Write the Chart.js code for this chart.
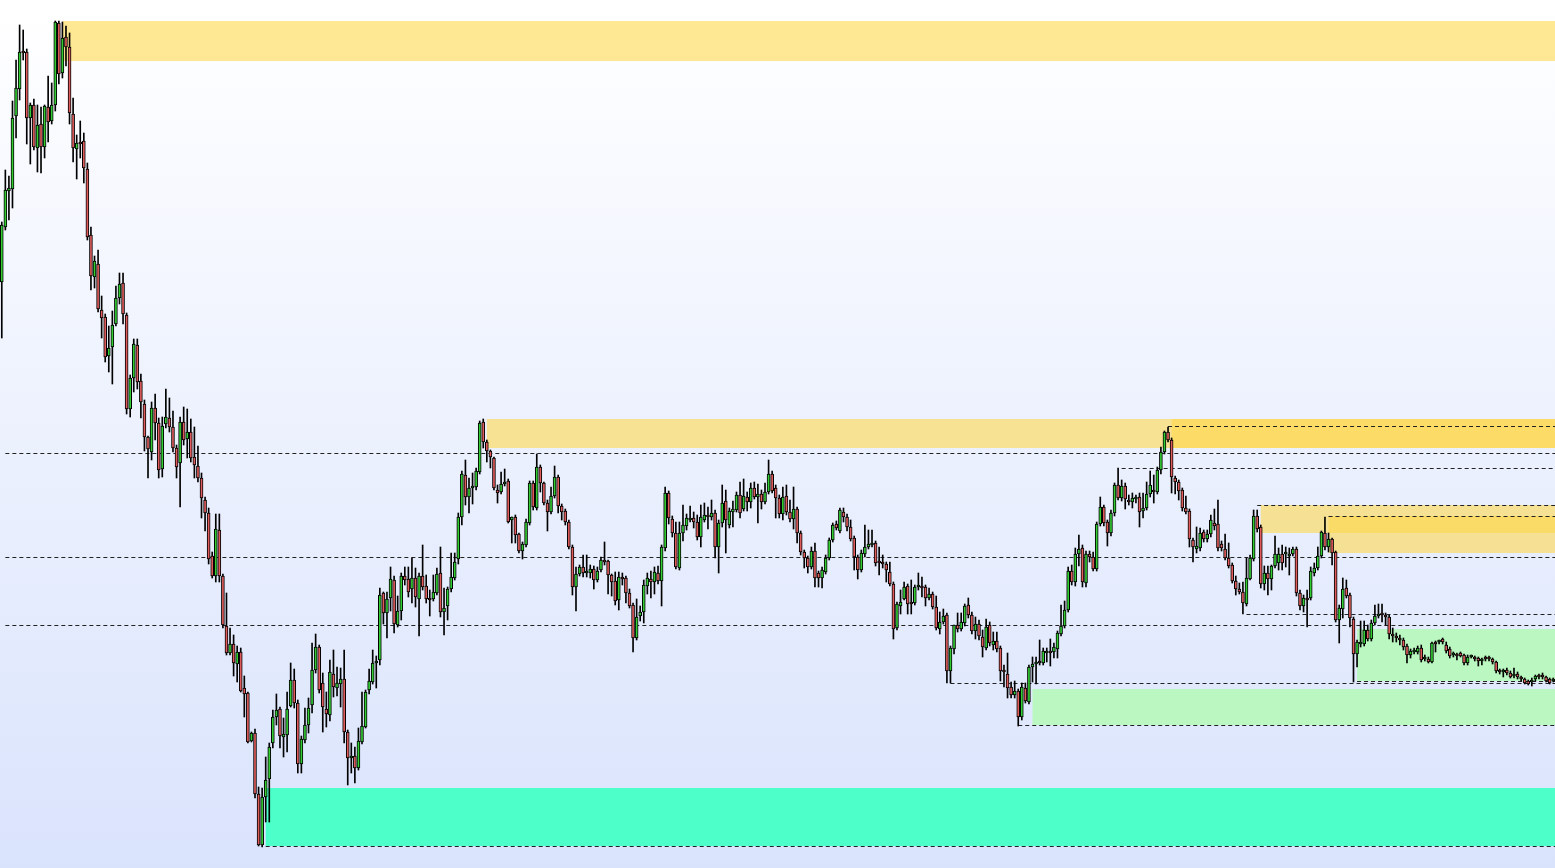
<!DOCTYPE html>
<html>
<head>
<meta charset="utf-8">
<script src="https://cdn.jsdelivr.net/npm/chart.js@4.4.1/dist/chart.umd.min.js"></script>
<style>
html, body { margin: 0; padding: 0; overflow: hidden; background: #fff; }
</style>
</head>
<body>
<canvas id="priceChart" width="1555" height="868"></canvas>
<script>
// candles, oldest first (price units)
var opens = [
  718,773,809,811,884,911,949,948,882,895, 852,876,853,893,879,895,977,927,963,953,
  886,851,858,859,831,765,723,736,690,683, 644,653,676,702,717,685,591,622,655,619,
  596,563,548,592,577,531,576,582,573,552, 537,578,561,568,543,534,522,500,487,444,
  424,470,424,374,347,356,336,348,312,307, 259,267,206,155,203,221,257,283,291,263,
  265,294,320,297,236,260,275,295,330,353, 317,291,285,326,312,316,321,268,242,244,
  232,258,273,310,318,337,340,407,387,402, 420,375,389,424,421,411,422,401,424,414,
  402,401,407,427,388,394,411,422,441,483, 525,503,512,513,528,578,558,549,542,510,
  508,516,519,480,483,466,449,455,477,517, 492,533,517,497,488,504,523,494,489,478,
  453,413,426,433,427,427,431,420,430,440, 439,425,419,400,423,422,407,395,362,384,
  388,414,421,418,427,419,452,507,481,467, 432,467,474,480,482,478,463,480,485,483,
  487,453,477,499,475,488,490,505,491,503, 498,512,503,506,498,508,526,512,502,486,
  504,488,481,491,467,448,442,433,449,427, 422,428,442,460,476,469,488,483,473,462,
  443,430,446,453,455,457,438,438,436,428, 416,372,394,401,414,398,397,413,413,413,
  402,406,393,371,378,385,329,351,375,371, 377,395,385,369,376,363,352,375,355,359,
  352,330,326,313,305,309,283,312,298,333, 336,339,337,347,348,348,351,366,374,390,
  429,418,446,452,417,446,443,431,476,493, 478,467,487,515,502,514,499,498,501,503,
  489,492,506,509,508,530,548,568,560,522, 518,510,492,489,460,451,452,468,461,466,
  477,476,456,451,442,435,419,411,408,396, 421,441,484,473,416,427,421,434,437,446,
  446,444,446,451,407,394,402,402,427,432, 444,467,453,461,448,380,391,412,405,381,
  346,356,356,370,361,377,384,386,385,383, 366,364,362,360,354,345,348,348,352,341,
  341,338,357,358,361,355,351,345,345,347, 345,337,343,343,342,339,343,343,341,338,
  330,328,330,327,324,326,323,321,319,318, 321,324,325,323,321,319
];
var highs = [
  778,830,824,899,940,975,970,951,897,901, 895,893,895,924,917,979,979,978,974,967,
  902,865,879,867,837,773,744,750,704,686, 674,689,714,727,727,687,625,661,661,626,
  600,564,598,606,582,583,611,602,589,555, 583,593,591,581,573,554,527,503,492,448,
  486,486,426,407,372,365,354,352,324,308, 268,271,213,212,243,257,290,306,293,282,
  308,337,331,300,264,292,302,357,366,355, 327,308,340,350,333,332,350,270,257,253,
  272,308,310,331,350,344,412,408,408,433, 424,404,427,433,433,442,432,427,455,425,
  410,425,432,453,412,413,447,447,487,529, 540,522,527,532,579,581,560,550,543,515,
  528,531,521,483,485,467,458,481,519,519, 546,535,518,500,513,534,525,496,491,480,
  455,433,435,445,445,435,434,433,443,458, 440,426,428,428,427,424,411,397,401,394,
  420,427,429,433,434,455,513,509,484,478, 478,495,486,494,488,485,495,497,493,500,
  490,480,515,510,492,499,508,518,521,508, 517,518,516,510,517,540,529,515,505,513,
  515,500,513,493,469,450,444,453,457,429, 433,445,462,477,479,492,492,486,480,464,
  445,450,475,470,470,459,453,445,438,438, 418,398,410,418,416,420,415,427,423,415,
  412,408,404,388,391,387,354,375,387,387, 396,402,388,383,380,370,381,378,368,368,
  354,335,347,318,319,311,317,317,335,343, 343,360,352,352,361,357,369,395,399,433,
  435,452,465,455,449,449,448,478,503,495, 480,490,517,532,520,517,505,507,505,507,
  507,518,529,525,533,553,569,573,562,524, 520,512,504,491,462,473,472,470,470,485,
  491,500,459,466,457,437,424,417,418,442, 445,490,490,475,434,434,435,464,452,455,
  453,452,453,453,410,405,410,433,437,453, 469,483,467,462,449,395,422,420,407,383,
  360,379,379,375,380,395,396,396,387,385, 372,367,365,362,356,351,352,354,355,345,
  343,358,359,360,362,358,353,348,347,348, 346,345,345,344,343,342,344,344,342,339,
  331,331,332,329,332,328,324,322,320,322, 325,326,327,324,322,322
];
var lows = [
  662,770,780,792,862,900,940,856,836,850, 828,827,842,858,876,889,916,922,934,876,
  838,821,842,817,760,710,712,688,662,638, 628,616,674,696,676,586,583,608,611,582,
  549,522,540,560,522,523,572,568,548,522, 493,555,542,538,522,518,482,469,436,422,
  418,418,372,345,345,324,318,308,283,257, 258,202,154,153,178,178,252,275,252,243,
  248,293,292,227,227,257,267,287,327,307, 268,273,279,303,304,293,257,215,227,217,
  230,256,272,306,316,312,335,376,362,389, 367,373,380,415,403,397,393,364,410,397,
  384,399,405,383,365,380,408,420,436,475, 495,487,496,510,526,552,538,532,510,497,
  506,514,477,457,457,447,441,453,475,490, 490,508,495,469,486,502,487,480,475,451,
  405,389,424,423,423,422,411,418,428,435, 406,404,395,390,415,397,392,348,360,379,
  377,406,402,406,416,394,449,476,463,431, 430,459,470,478,472,460,453,478,471,480,
  442,427,473,447,472,473,488,482,489,489, 492,501,477,491,496,506,507,482,482,480,
  485,478,471,457,445,432,427,431,413,413, 412,426,440,458,470,467,478,469,459,430,
  421,428,443,451,453,434,425,432,418,414, 361,370,386,400,386,386,395,410,403,394,
  400,391,370,366,376,317,317,346,368,369, 374,382,366,361,360,343,350,354,350,348,
  319,313,302,302,302,274,280,297,296,318, 316,335,335,338,334,342,342,364,372,388,
  415,414,434,413,413,438,429,429,474,474, 454,464,484,500,499,491,495,492,497,473,
  482,490,503,497,506,526,546,558,507,506, 500,489,486,453,438,447,449,458,458,463,
  470,449,449,440,432,417,405,406,386,394, 420,439,468,412,410,405,410,432,430,430,
  433,425,444,404,390,388,373,400,424,430, 442,450,448,435,378,357,382,402,373,318,
  333,353,354,359,359,375,382,378,375,361, 358,358,355,350,337,342,346,346,338,339,
  337,337,348,356,356,347,342,343,340,343, 335,335,342,339,334,335,339,339,336,327,
  326,323,325,322,322,321,319,316,315,314, 319,321,321,318,316,318
];
var closes = [
  775,810,812,882,912,948,947,882,895,853, 875,853,894,878,895,978,926,962,953,887,
  852,857,856,832,763,724,739,691,682,643, 652,675,702,716,686,591,622,656,618,598,
  563,551,592,577,530,574,583,573,552,533, 578,560,568,542,535,522,502,487,441,424,
  471,424,375,347,356,337,348,309,306,258, 267,206,155,203,220,253,283,290,264,266,
  291,320,297,236,261,275,292,330,353,310, 293,286,328,313,317,321,268,242,244,232,
  259,274,308,319,337,338,405,387,401,421, 376,389,424,420,408,422,403,424,413,401,
  400,408,426,388,392,411,423,438,483,526, 503,512,514,529,577,558,549,543,512,507,
  516,518,478,483,465,449,456,478,517,493, 533,517,497,488,504,523,494,488,478,453,
  413,426,433,427,428,431,420,429,440,438, 425,418,399,423,421,407,394,362,383,388,
  415,422,418,428,419,453,507,482,467,433, 467,475,482,482,478,463,483,485,483,487,
  453,477,497,480,489,491,505,487,504,498, 512,503,506,498,508,526,509,502,486,503,
  488,481,491,467,448,442,433,449,422,422, 430,442,460,475,472,490,483,473,461,443,
  430,447,453,456,457,437,437,436,430,416, 371,396,398,413,396,396,413,414,412,402,
  406,393,372,378,384,329,352,375,371,378, 394,385,369,376,364,353,373,357,359,351,
  329,328,312,305,309,283,313,299,333,336, 338,337,349,348,347,353,367,374,390,429,
  418,446,451,418,446,443,431,476,493,477, 467,487,515,502,514,501,498,502,502,488,
  492,506,515,508,530,548,568,560,523,518, 509,492,488,461,453,454,467,461,466,480,
  474,452,452,442,434,419,411,408,397,422, 442,484,471,416,427,421,434,446,446,437,
  447,446,451,407,394,402,400,429,432,444, 468,453,461,447,380,392,411,404,382,346,
  358,357,370,361,377,384,386,385,383,366, 364,362,360,353,345,349,350,352,340,342,
  338,357,356,359,358,349,344,346,344,344, 337,343,344,341,339,340,341,341,338,329,
  328,329,327,323,325,323,321,317,316,319, 324,323,323,319,317,320
];

// supply zones (yellow): first candle, upper price, lower price
var supplyStart = [17, 136, 328, 353, 372];
var supplyTop = [979, 581, 581, 495, 484];
var supplyBottom = [939, 552, 552, 467, 447];

// demand zones (green)
var demandStart = [289, 380];
var demandTop = [311, 371];
var demandBottom = [275, 319];

// strong demand zone (teal)
var strongStart = [74];
var strongTop = [212];
var strongBottom = [154];

// dashed levels: first candle and price
var levelStart = [1, 1, 1, 74, 327, 314, 352, 372, 349, 266, 380, 285];
var levelPrice = [547, 443, 375, 154, 574, 532, 495, 484, 386, 317, 319, 275];

var labels = closes.map(function (c, i) { return i; });

var zoneLayer = {
    id: 'zoneLayer',
    beforeDraw: function (chart) {
        var ctx = chart.ctx;
        var g = ctx.createLinearGradient(0, 0, 0, chart.height);
        g.addColorStop(0, '#ffffff');
        g.addColorStop(1, '#d9e3fc');
        ctx.save();
        ctx.fillStyle = g;
        ctx.fillRect(0, 0, chart.width, chart.height);
        ctx.restore();
    },
    beforeDatasetsDraw: function (chart) {
        var ctx = chart.ctx;
        var xs = chart.scales.x, ys = chart.scales.y;
        var right = chart.chartArea.right;

        function box(start, top, bottom, color) {
            var x0 = xs.getPixelForValue(start);
            var y0 = ys.getPixelForValue(top);
            var y1 = ys.getPixelForValue(bottom);
            ctx.fillStyle = color;
            ctx.fillRect(x0, y0, right - x0, y1 - y0);
        }

        ctx.save();
        supplyStart.forEach(function (s, i) {
            box(s, supplyTop[i], supplyBottom[i], 'rgba(255, 215, 70, 0.58)');
        });
        demandStart.forEach(function (s, i) {
            box(s, demandTop[i], demandBottom[i], '#bbf8c1');
        });
        strongStart.forEach(function (s, i) {
            box(s, strongTop[i], strongBottom[i], '#4dffc8');
        });

        // dashed levels
        ctx.strokeStyle = '#222';
        ctx.lineWidth = 1;
        ctx.setLineDash([4, 3]);
        levelStart.forEach(function (s, i) {
            var x0 = xs.getPixelForValue(s);
            var y = Math.round(ys.getPixelForValue(levelPrice[i])) + 0.5;
            ctx.beginPath();
            ctx.moveTo(x0, y);
            ctx.lineTo(right, y);
            ctx.stroke();
        });
        ctx.restore();
    }
};

var ctx = document.getElementById('priceChart').getContext('2d');

var priceChart = new Chart(ctx, {
    type: 'bar',
    data: {
        labels: labels,
        datasets: [{
            label: 'wick',
            data: lows.map(function (l, i) { return [l, highs[i]]; }),
            backgroundColor: '#000',
            barThickness: 1,
            grouped: false,
            order: 2
        }, {
            label: 'body',
            data: opens.map(function (o, i) { return [o, closes[i]]; }),
            backgroundColor: opens.map(function (o, i) {
                return closes[i] >= o ? '#33cc33' : '#e05c5c';
            }),
            borderColor: '#000',
            borderWidth: 1,
            borderSkipped: false,
            barThickness: 3,
            minBarLength: 2,
            grouped: false,
            order: 1
        }]
    },
    options: {
        responsive: false,
        animation: false,
        layout: { padding: 0 },
        plugins: {
            legend: { display: false },
            tooltip: { enabled: false }
        },
        scales: {
            x: { display: false, grid: { display: false } },
            y: { display: false, min: 132, max: 1000, grid: { display: false } }
        }
    },
    plugins: [zoneLayer]
});
</script>
</body>
</html>
